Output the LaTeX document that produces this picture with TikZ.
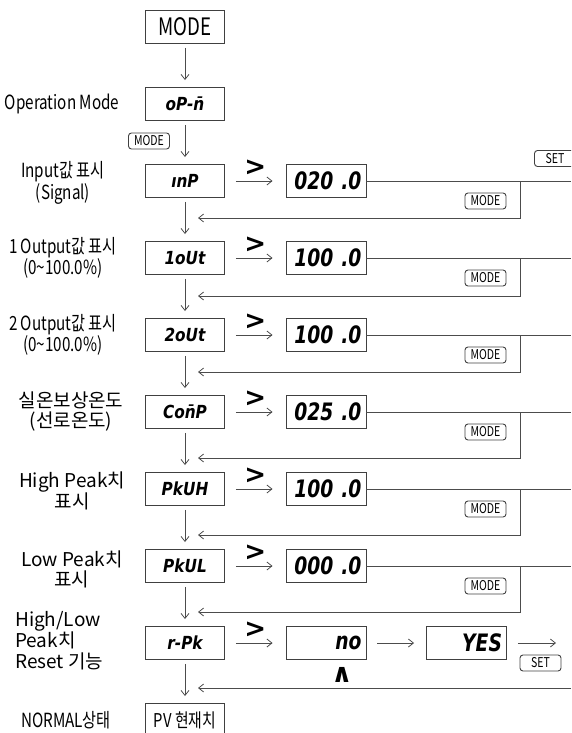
\documentclass[tikz,border=0pt]{standalone}
\usepackage{fontspec}
\setmainfont{Noto Sans CJK KR}
\newfontfamily\condfont[FakeStretch=0.78]{Noto Sans CJK KR}
\newfontfamily\segfont[FakeStretch=0.85]{DejaVu Sans}
\newfontfamily\valfont[FakeStretch=0.78]{DejaVu Sans}
\newfontfamily\symfont{DejaVu Sans}
\usetikzlibrary{positioning,arrows.meta}

\begin{document}
\begin{tikzpicture}[node distance=77pt, x=1pt, y=1pt]
\tikzstyle{display} = [rectangle, draw=black!75, line width=0.9pt, minimum width=79pt, minimum height=33pt, inner sep=0pt, text centered, font=\segfont\bfseries\itshape\fontsize{18}{18}\selectfont]
\tikzstyle{plain} = [rectangle, draw=black!75, line width=0.9pt, minimum width=79pt, minimum height=33pt, inner sep=0pt, text centered]
\tikzstyle{value} = [rectangle, draw=black!75, line width=0.9pt, text width=71pt, inner xsep=4.5pt, inner ysep=0pt, minimum height=33pt, align=right, font=\valfont\bfseries\itshape\fontsize{24}{24}\selectfont]
\tikzstyle{key} = [rectangle, rounded corners=3pt, draw=black!75, line width=0.9pt, minimum width=41pt, minimum height=16pt, inner sep=0pt, font=\condfont\fontsize{13.5}{13.5}\selectfont]
\tikzstyle{caption} = [inner sep=0pt, align=center, font=\condfont\fontsize{19.5}{17}\selectfont]
\tikzstyle{wide} = [inner sep=0pt, align=center, font=\fontsize{19}{20}\selectfont]
\tikzstyle{gt} = [above=5pt, inner sep=0pt, font=\symfont\bfseries\fontsize{26}{26}\selectfont]
\tikzstyle{line} = [draw=black!70, line width=0.8pt]
\tikzstyle{arrow} = [line, ->, >={Straight Barb[length=5pt,width=8pt]}]
\tikzstyle{down} = [arrow, shorten <=4pt, shorten >=7pt]
\tikzstyle{across} = [arrow, shorten <=11pt, shorten >=13pt]

\useasboundingbox (0,0) rectangle (571,-733);
\clip (0,0) rectangle (571,-733);

\coordinate (Edge) at (571,0);
\coordinate (Split) at (520,0);

\node (Mode) [plain, font=\condfont\fontsize{24}{24}\selectfont] at (185,-27) {MODE};
\node (OperationMode) [display, below of=Mode] {oP-n̄};
\node (Input) [display, below of=OperationMode] {ınP};
\node (OutputOne) [display, below of=Input] {1oUt};
\node (OutputTwo) [display, below of=OutputOne] {2oUt};
\node (Compensation) [display, below of=OutputTwo] {Con̄P};
\node (PeakHigh) [display, below of=Compensation] {PkUH};
\node (PeakLow) [display, below of=PeakHigh] {PkUL};
\node (PeakReset) [display, below of=PeakLow] {r-Pk};
\node (Normal) [plain, below of=PeakReset, font=\condfont\fontsize{19}{19}\selectfont] {PV 현재치};

\node (OperationModeLabel) [caption, left of=OperationMode, node distance=123pt] {Operation Mode};
\node (InputLabel) [caption, left of=Input, node distance=122pt, yshift=-2pt] {Input값 표시\\(Signal)};
\node (OutputOneLabel) [caption, left of=OutputOne, node distance=122pt] {1 Output값 표시\\(0\textasciitilde100.0\%)};
\node (OutputTwoLabel) [caption, left of=OutputTwo, node distance=122pt] {2 Output값 표시\\(0\textasciitilde100.0\%)};
\node (CompensationLabel) [wide, left of=Compensation, node distance=114pt] {실온보상온도\\(선로온도)};
\node (PeakHighLabel) [wide, left of=PeakHigh, node distance=113pt, yshift=-2pt] {High Peak치\\표시};
\node (PeakLowLabel) [wide, left of=PeakLow, node distance=113pt, yshift=-3pt] {Low Peak치\\표시};
\node (PeakResetLabel) [wide, align=left, anchor=west, font=\fontsize{19}{21}\selectfont] at (15,-641) {High/Low\\Peak치\\Reset 기능};
\node (NormalLabel) [caption, left of=Normal, node distance=119pt] {NORMAL상태};

\node (InputValue) [value, right of=Input, node distance=141pt] {020 .0};
\node (OutputOneValue) [value, right of=OutputOne, node distance=141pt] {100 .0};
\node (OutputTwoValue) [value, right of=OutputTwo, node distance=141pt] {100 .0};
\node (CompensationValue) [value, right of=Compensation, node distance=141pt] {025 .0};
\node (PeakHighValue) [value, right of=PeakHigh, node distance=141pt] {100 .0};
\node (PeakLowValue) [value, right of=PeakLow, node distance=141pt] {000 .0};
\node (ResetNo) [value, right of=PeakReset, node distance=141pt] {no\hspace{4pt}};
\node (ResetYes) [value, right of=ResetNo, node distance=140.5pt] {YES};
\node (ResetUp) [inner sep=0pt, below of=ResetNo, node distance=32pt, xshift=16pt, font=\symfont\bfseries\fontsize{26}{26}\selectfont] {∧};

\node (ModeKey) [key] at (149,-141) {MODE};
\node (SetKey) [key] at (555,-158.5) {SET};
\node (InputKey) [key, xshift=159.5pt, yshift=-20pt] at (InputValue) {MODE};
\node (OutputOneKey) [key, xshift=159.5pt, yshift=-20pt] at (OutputOneValue) {MODE};
\node (OutputTwoKey) [key, xshift=159.5pt, yshift=-20pt] at (OutputTwoValue) {MODE};
\node (CompensationKey) [key, xshift=159.5pt, yshift=-20pt] at (CompensationValue) {MODE};
\node (PeakHighKey) [key, xshift=159.5pt, yshift=-20pt] at (PeakHighValue) {MODE};
\node (PeakLowKey) [key, xshift=159.5pt, yshift=-20pt] at (PeakLowValue) {MODE};
\node (ResetKey) [key, xshift=74pt, yshift=-20pt] at (ResetYes) {SET};

\coordinate (InputReturn) at (198,-218);
\coordinate (OutputOneReturn) at (198,-296);
\coordinate (OutputTwoReturn) at (198,-372);
\coordinate (CompensationReturn) at (198,-458);
\coordinate (PeakHighReturn) at (198,-535);
\coordinate (PeakLowReturn) at (198,-612);
\coordinate (ResetReturn) at (198,-688);
\coordinate (YesOut) at ([xshift=89.5pt]ResetYes.center);

\draw [down] (Mode) -- (OperationMode);
\draw [down] (OperationMode) -- (Input);
\draw [down] (Input) -- (OutputOne);
\draw [down] (OutputOne) -- (OutputTwo);
\draw [down] (OutputTwo) -- (Compensation);
\draw [down] (Compensation) -- (PeakHigh);
\draw [down] (PeakHigh) -- (PeakLow);
\draw [down] (PeakLow) -- (PeakReset);
\draw [down] (PeakReset) -- (Normal);

\draw [across] (Input) -- node (InputGt) [gt] {>} (InputValue);
\draw [across] (OutputOne) -- node (OutputOneGt) [gt] {>} (OutputOneValue);
\draw [across] (OutputTwo) -- node (OutputTwoGt) [gt] {>} (OutputTwoValue);
\draw [across] (Compensation) -- node (CompensationGt) [gt] {>} (CompensationValue);
\draw [across] (PeakHigh) -- node (PeakHighGt) [gt] {>} (PeakHighValue);
\draw [across] (PeakLow) -- node (PeakLowGt) [gt] {>} (PeakLowValue);
\draw [across] (PeakReset) -- node (PeakResetGt) [gt] {>} (ResetNo);
\draw [arrow, shorten <=11pt, shorten >=12pt] (ResetNo) -- (ResetYes);
\draw [arrow, shorten <=11pt] (ResetYes) -- (YesOut);

\draw [line] (InputValue.east) -- (InputValue -| Edge);
\draw [line] (OutputOneValue.east) -- (OutputOneValue -| Edge);
\draw [line] (OutputTwoValue.east) -- (OutputTwoValue -| Edge);
\draw [line] (CompensationValue.east) -- (CompensationValue -| Edge);
\draw [line] (PeakHighValue.east) -- (PeakHighValue -| Edge);
\draw [line] (PeakLowValue.east) -- (PeakLowValue -| Edge);

\draw [arrow] (InputValue -| Split) |- (InputReturn);
\draw [arrow] (OutputOneValue -| Split) |- (OutputOneReturn);
\draw [arrow] (OutputTwoValue -| Split) |- (OutputTwoReturn);
\draw [arrow] (CompensationValue -| Split) |- (CompensationReturn);
\draw [arrow] (PeakHighValue -| Split) |- (PeakHighReturn);
\draw [arrow] (PeakLowValue -| Split) |- (PeakLowReturn);
\draw [arrow] (ResetReturn -| Edge) -- (ResetReturn);

\end{tikzpicture}
\end{document}
